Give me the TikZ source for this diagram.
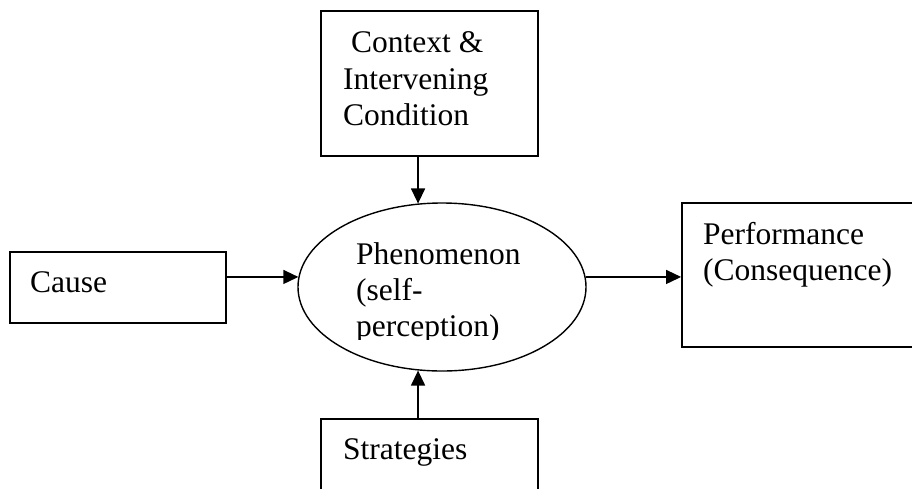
\documentclass[tikz,border=0pt]{standalone}
\usepackage{fontspec}
\setmainfont{Liberation Serif}
\usetikzlibrary{shapes.geometric,arrows.meta}
\begin{document}
\begin{tikzpicture}[x=1pt,y=-1pt,
  boxnode/.style={draw,line width=1.8pt,rectangle,inner sep=0pt},
  ellnode/.style={draw,line width=1.4pt,ellipse,inner sep=0pt,minimum width=288pt,minimum height=168pt},
  lbl/.style={anchor=base west,inner sep=0pt,font=\fontsize{31.5}{36}\selectfont},
  arr/.style={line width=1.4pt,-{Triangle[length=15pt,width=14pt]}}]
\useasboundingbox (0,0) rectangle (912,488);
\node[boxnode,minimum width=217pt,minimum height=145pt] (top) at (429.5,83.5) {};
\node[boxnode,minimum width=216pt,minimum height=71pt] (cause) at (118,287.5) {};
\node[boxnode,minimum width=250pt,minimum height=144pt] (perf) at (807,275) {};
\node[boxnode,minimum width=217pt,minimum height=101pt] (strat) at (429.5,469.5) {};
\node[ellnode] (ph) at (442,287) {};
\node[lbl] (t1) at (351,52) {Context \&};
\node[lbl] (t2) at (343,89) {Intervening};
\node[lbl] (t3) at (343,125) {Condition};
\node[lbl] (c1) at (30,292) {Cause};
\node[lbl] (p1) at (703,244) {Performance};
\node[lbl] (p2) at (703,280) {(Consequence)};
\node[lbl] (s1) at (343,459) {Strategies};
\begin{scope}
\clip (290,200) rectangle (600,339);
\node[lbl] (h1) at (356,264) {Phenomenon};
\node[lbl] (h2) at (356,300) {(self-};
\node[lbl] (h3) at (356,336) {perception)};
\end{scope}
\draw[arr] (top.south -| ph.106) -- (ph.106);
\draw[arr] (strat.north -| ph.-106) -- (ph.-106);
\draw[arr] (cause.east |- ph.176) -- (ph.176);
\draw[arr] (ph.4) -- (perf.west |- ph.4);
\end{tikzpicture}
\end{document}
